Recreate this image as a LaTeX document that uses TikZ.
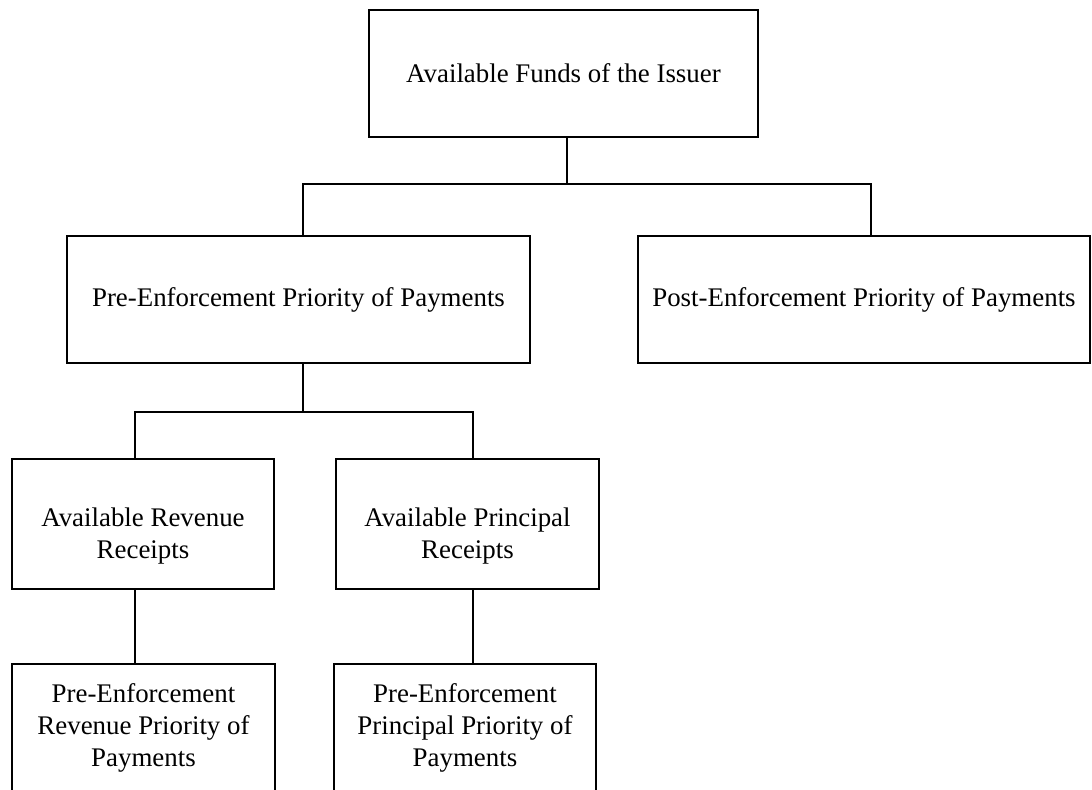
\documentclass[tikz,border=0pt]{standalone}
\usepackage{fontspec}
\setmainfont{Liberation Serif}
\usetikzlibrary{positioning}
\tikzset{
    block/.style={
        rectangle, draw=black, line width=0.9pt,
        align=center, inner sep=2pt,
        font=\fontsize{15.3}{18.2}\selectfont
    },
    wide block/.style={
        block, minimum height=2.54cm
    },
    small block/.style={
        block, minimum width=5.25cm, minimum height=2.6cm
    },
    receipts block/.style={
        small block, text height=42pt
    },
    connector/.style={
        line width=0.9pt
    }
}

\begin{document}
\begin{tikzpicture}[x=0.02cm, y=-0.02cm]
    \useasboundingbox (0,0) rectangle (1092,789);
    \node[wide block, minimum width=7.78cm] (funds) at (563.5,73.5) {Available Funds of the Issuer};
    \node[wide block, minimum width=9.26cm] (pre) at (298.5,299.5) {Pre-Enforcement Priority of Payments};
    \node[wide block, minimum width=9.04cm] (post) at (864,299.5) {Post-Enforcement Priority of Payments};
    \node[receipts block] (revenue) at (143,524) {Available Revenue\\Receipts};
    \node[receipts block] (principal) at (467.5,524) {Available Principal\\Receipts};
    \node[small block, minimum height=2.56cm] (prerevenue) at (143.5,728) {Pre-Enforcement\\Revenue Priority of\\Payments};
    \node[small block, minimum height=2.56cm] (preprincipal) at (465,728) {Pre-Enforcement\\Principal Priority of\\Payments};

    \draw[connector] ([xshift=0.07cm]funds.south) -- ++(0,46) coordinate (fork1);
    \draw[connector] ([xshift=0.09cm]pre.north) |- (fork1) -| ([xshift=0.14cm]post.north);
    \draw[connector] ([xshift=0.09cm]pre.south) -- ++(0,48) coordinate (fork2);
    \draw[connector] ([xshift=-0.16cm]revenue.north) |- (fork2) -| ([xshift=0.11cm]principal.north);
    \draw[connector] ([xshift=-0.16cm]revenue.south) -- ([xshift=-0.17cm]prerevenue.north);
    \draw[connector] ([xshift=0.11cm]principal.south) -- ([xshift=0.16cm]preprincipal.north);
\end{tikzpicture}
\end{document}
